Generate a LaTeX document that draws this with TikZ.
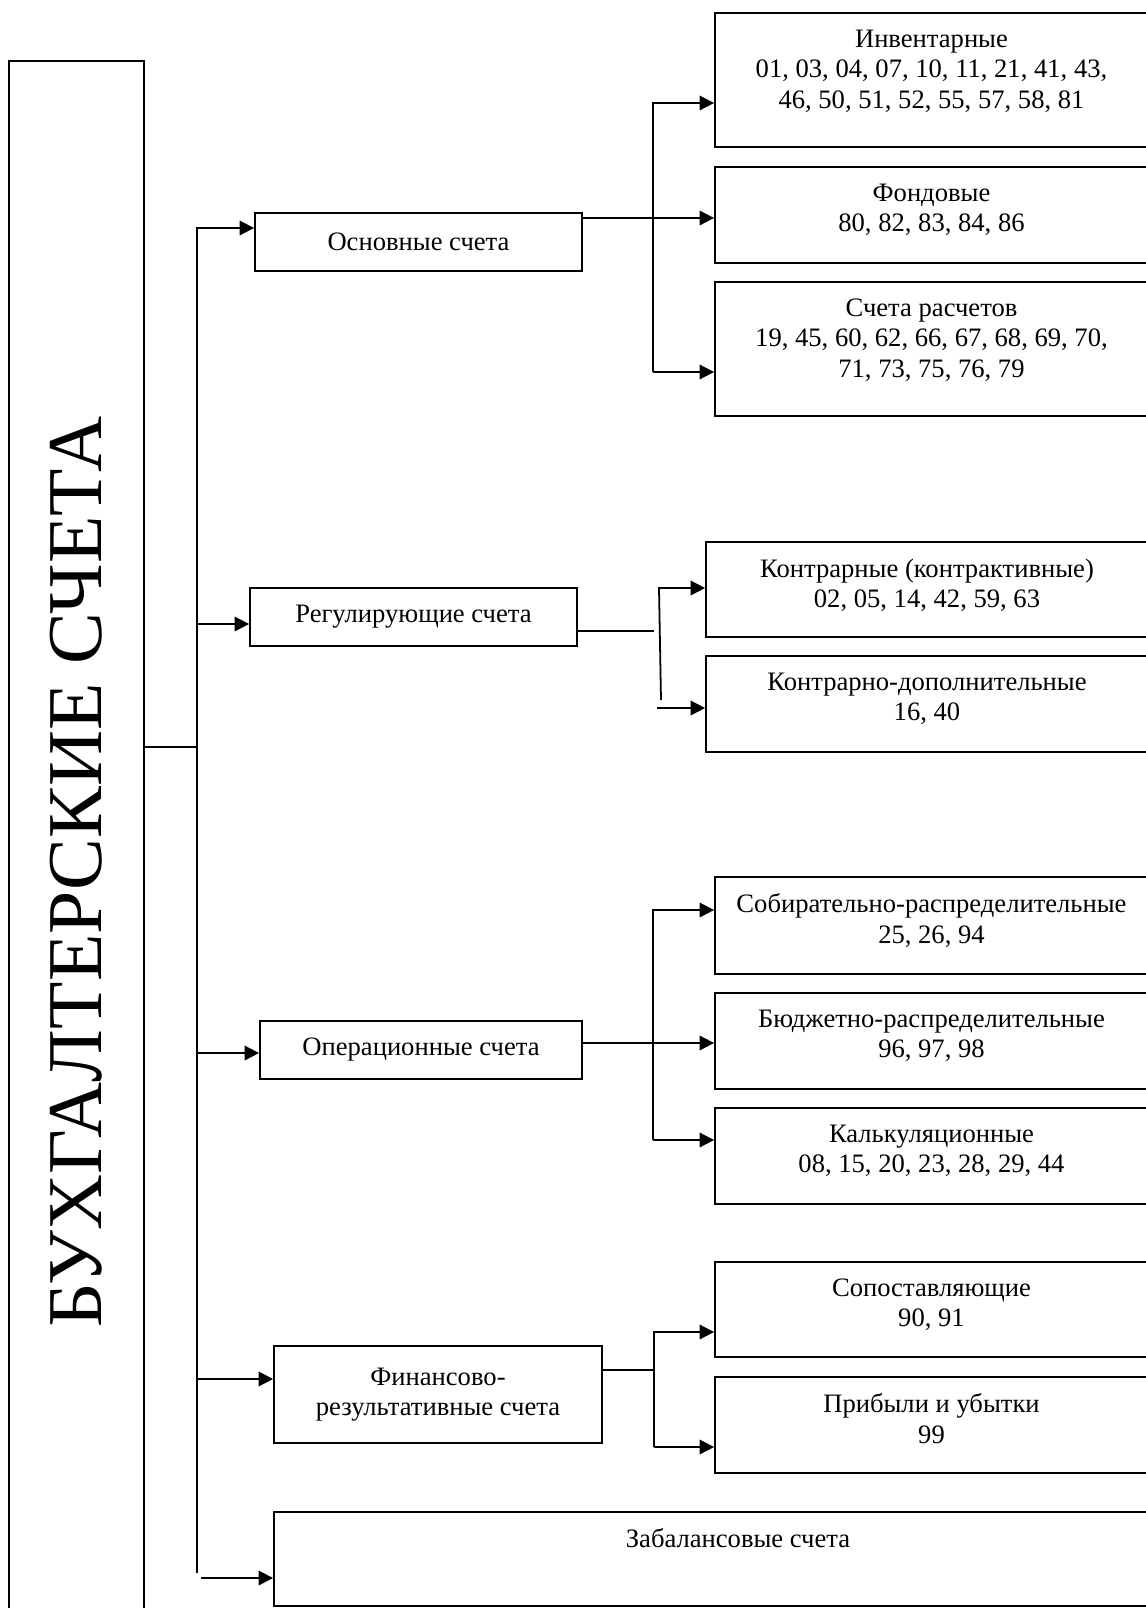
\documentclass[tikz,border=0pt]{standalone}
\usepackage{fontspec}
\setmainfont{Liberation Serif}
\usetikzlibrary{arrows.meta, fit}
\newcommand{\acctfont}{\fontsize{12}{13.8}\selectfont}
\newcommand{\bigtitlefont}{\fontsize{35}{40}\selectfont}
\tikzset{
  acctbox/.style={draw=black, line width=0.8pt, inner sep=0pt},
  maintext/.style={inner sep=0pt, align=center, font=\acctfont},
  subtext/.style={anchor=north, yshift=-7.7pt, inner sep=0pt, align=center, font=\acctfont},
  titletext/.style={rotate=90, inner sep=0pt, font=\bigtitlefont},
  link/.style={draw=black, line width=0.8pt},
  flow/.style={link, -{Triangle[length=6.5pt, width=6.5pt]}},
}

\begin{document}
\begin{tikzpicture}[x=0.451pt, y=-0.451pt]

  \useasboundingbox (0,0) rectangle (1146,1608);

  % ----------------------------------------------------------------
  % Left column: the whole class of accounts
  % ----------------------------------------------------------------
  \node[acctbox, fit={(9,61) (144,1683)}] (acct) {};
  \node[titletext] (title) at (acct.center) {БУХГАЛТЕРСКИЕ СЧЕТА};

  % ----------------------------------------------------------------
  % Middle column: groups of accounts
  % ----------------------------------------------------------------
  \node[acctbox, fit={(255,213) (582,271)}] (osn) {};
  \node[maintext] (osn-t) at (osn.center) {Основные счета};
  \node[acctbox, fit={(250,588) (577,646)}] (reg) {};
  \node[maintext] (reg-t) at (reg.center) {Регулирующие счета};
  \node[acctbox, fit={(260,1021) (582,1079)}] (oper) {};
  \node[maintext] (oper-t) at (oper.center) {Операционные счета};
  \node[acctbox, fit={(274,1346) (602,1443)}] (fin) {};
  \node[maintext] (fin-t) at (fin.center) {Финансово-\\результативные счета};
  \node[acctbox, fit={(274,1512) (1202,1606)}] (zab) {};
  \node[subtext] (zab-t) at (zab.north) {Забалансовые счета};

  % ----------------------------------------------------------------
  % Right column: subgroups with account numbers
  % ----------------------------------------------------------------
  \node[acctbox, fit={(715,13) (1148,147)}] (inv) {};
  \node[subtext] (inv-t) at (inv.north)
    {Инвентарные\\01, 03, 04, 07, 10, 11, 21, 41, 43,\\46, 50, 51, 52, 55, 57, 58, 81};
  \node[acctbox, fit={(715,167) (1148,263)}] (fond) {};
  \node[subtext] (fond-t) at (fond.north) {Фондовые\\80, 82, 83, 84, 86};
  \node[acctbox, fit={(715,282) (1148,416)}] (rasch) {};
  \node[subtext] (rasch-t) at (rasch.north)
    {Счета расчетов\\19, 45, 60, 62, 66, 67, 68, 69, 70,\\71, 73, 75, 76, 79};

  \node[acctbox, fit={(706,542) (1148,637)}] (kontr) {};
  \node[subtext] (kontr-t) at (kontr.north)
    {Контрарные (контрактивные)\\02, 05, 14, 42, 59, 63};
  \node[acctbox, fit={(706,656) (1148,752)}] (kdop) {};
  \node[subtext] (kdop-t) at (kdop.north) {Контрарно-дополнительные\\16, 40};

  \node[acctbox, fit={(715,877) (1148,974)}] (sobir) {};
  \node[subtext] (sobir-t) at (sobir.north)
    {Собирательно-распределительные\\25, 26, 94};
  \node[acctbox, fit={(715,993) (1148,1089)}] (budzh) {};
  \node[subtext] (budzh-t) at (budzh.north)
    {Бюджетно-распределительные\\96, 97, 98};
  \node[acctbox, fit={(715,1108) (1148,1204)}] (kalk) {};
  \node[subtext] (kalk-t) at (kalk.north)
    {Калькуляционные\\08, 15, 20, 23, 28, 29, 44};

  \node[acctbox, fit={(715,1262) (1148,1357)}] (sopost) {};
  \node[subtext] (sopost-t) at (sopost.north) {Сопоставляющие\\90, 91};
  \node[acctbox, fit={(715,1377) (1148,1473)}] (prib) {};
  \node[subtext] (prib-t) at (prib.north) {Прибыли и убытки\\99};

  % ----------------------------------------------------------------
  % Trunk from the left column
  % ----------------------------------------------------------------
  \coordinate (hub)    at (197,747);
  \coordinate (t-osn)  at (197,228);
  \coordinate (t-reg)  at (197,624);
  \coordinate (t-oper) at (197,1053);
  \coordinate (t-fin)  at (197,1379);
  \coordinate (t-end)  at (197,1573);
  \coordinate (t-zab)  at (201,1578);

  \draw[link] (acct.east |- hub) -- (hub);
  \draw[flow] (t-end) -- (t-osn) -- (osn.west |- t-osn);
  \draw[flow] (t-reg) -- (reg.west |- t-reg);
  \draw[flow] (t-oper) -- (oper.west |- t-oper);
  \draw[flow] (t-fin) -- (fin.west |- t-fin);
  \draw[flow] (t-zab) -- (zab.west |- t-zab);

  % ----------------------------------------------------------------
  % Branches to the subgroups
  % ----------------------------------------------------------------
  \coordinate (osn-top) at (653,103);
  \coordinate (osn-mid) at (653,218);
  \coordinate (osn-bot) at (653,372);
  \draw[flow] (osn.east |- osn-mid) -- (fond.west |- osn-mid);
  \draw[flow] (osn-bot) -- (osn-top) -- (inv.west |- osn-top);
  \draw[flow] (osn-bot) -- (rasch.west |- osn-bot);

  \coordinate (reg-stub) at (654,631);
  \coordinate (reg-top)  at (659,588);
  \coordinate (reg-bot)  at (661,700);
  \coordinate (reg-low)  at (657,708);
  \draw[link] (reg.east |- reg-stub) -- (reg-stub);
  \draw[flow] (reg-bot) -- (reg-top) -- (kontr.west |- reg-top);
  \draw[flow] (reg-low) -- (kdop.west |- reg-low);

  \coordinate (oper-top) at (653,910);
  \coordinate (oper-mid) at (653,1043);
  \coordinate (oper-bot) at (653,1140);
  \draw[flow] (oper.east |- oper-mid) -- (budzh.west |- oper-mid);
  \draw[flow] (oper-bot) -- (oper-top) -- (sobir.west |- oper-top);
  \draw[flow] (oper-bot) -- (kalk.west |- oper-bot);

  \coordinate (fin-top) at (654,1332);
  \coordinate (fin-mid) at (654,1370);
  \coordinate (fin-bot) at (654,1447);
  \draw[link] (fin.east |- fin-mid) -- (fin-mid);
  \draw[flow] (fin-bot) -- (fin-top) -- (sopost.west |- fin-top);
  \draw[flow] (fin-bot) -- (prib.west |- fin-bot);

\end{tikzpicture}
\end{document}
